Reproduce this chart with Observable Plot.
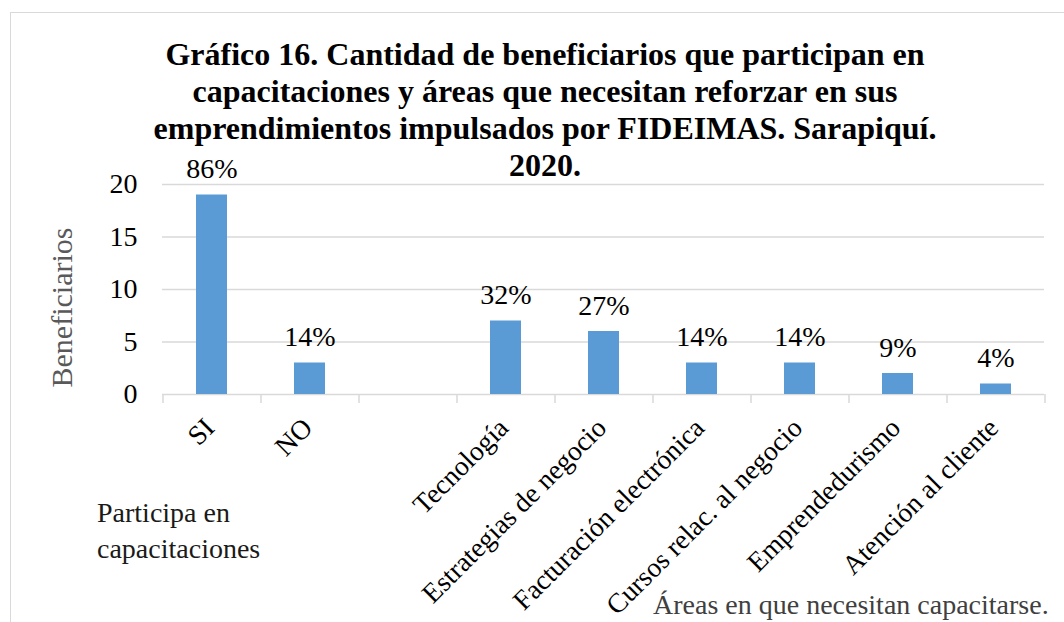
<!DOCTYPE html>
<html>
<head>
<meta charset="utf-8">
<script src="https://cdn.jsdelivr.net/npm/d3@7"></script>
<script src="https://cdn.jsdelivr.net/npm/@observablehq/plot@0.6"></script>
<style>
  html, body { margin: 0; padding: 0; background: #fff; }
  body { width: 1064px; height: 622px; overflow: hidden; position: relative; font-family: "Liberation Serif", "Times New Roman", serif; }
  #frame { position: absolute; left: 10px; top: 12px; width: 1200px; height: 800px; border: 1.5px solid #d9d9d9; box-sizing: border-box; }
  #chart { position: absolute; left: 0; top: 0; }
  #title { position: absolute; left: 0; top: 36px; width: 1090px; text-align: center; font-weight: bold; font-size: 32px; line-height: 37px; color: #000; }
  #lab1 { position: absolute; left: 97px; top: 495px; font-size: 28px; line-height: 36px; color: #1a1a1a; white-space: nowrap; }
  #lab2 { position: absolute; left: 653px; top: 587px; font-size: 28px; line-height: 36px; color: #404040; white-space: nowrap; }
</style>
</head>
<body>
<div id="frame"></div>
<div id="chart"></div>
<div id="title">Gráfico 16. Cantidad de beneficiarios que participan en<br>capacitaciones y áreas que necesitan reforzar en sus<br>emprendimientos impulsados por FIDEIMAS. Sarapiquí.<br>2020.</div>
<div id="lab1">Participa en<br>capacitaciones</div>
<div id="lab2">Áreas en que necesitan capacitarse.</div>
<script>
const categories = ["SI", "NO", "", "Tecnología", "Estrategias de negocio", "Facturación electrónica", "Cursos relac. al negocio", "Emprendedurismo", "Atención al cliente"];
const values = [19, 3, null, 7, 6, 3, 3, 2, 1];
const percents = ["86%", "14%", "", "32%", "27%", "14%", "14%", "9%", "4%"];
const yTicks = [0, 5, 10, 15, 20];
const yLabel = "Beneficiarios";

const rows = categories.map((c, i) => ({cat: c, value: values[i], pct: percents[i]}));
const bars = rows.filter(d => d.value != null);

const W = 1064, H = 622;
const mL = 162, mR = 20, mT = 184, mB = 228;
const slot = (W - mL - mR) / categories.length;
const pad = 0.684;

const chart = Plot.plot({
  width: W,
  height: H,
  marginLeft: mL,
  marginRight: mR,
  marginTop: mT,
  marginBottom: mB,
  style: {fontFamily: "'Liberation Serif', 'Times New Roman', serif", fontSize: "28px", background: "transparent", color: "#000"},
  x: {domain: categories, paddingInner: pad, paddingOuter: pad / 2, axis: null},
  y: {domain: [0, 20], axis: null},
  marks: [
    Plot.gridY(yTicks, {stroke: "#d9d9d9", strokeOpacity: 1, strokeWidth: 1.5}),
    Plot.ruleX(categories, {x: d => d, y1: 0, y2: 0, dx: -slot / 2, insetBottom: -9, stroke: "#d9d9d9", strokeWidth: 1.5}),
    Plot.ruleX(categories.slice(-1), {x: d => d, y1: 0, y2: 0, dx: slot / 2, insetBottom: -9, stroke: "#d9d9d9", strokeWidth: 1.5}),
    Plot.barY(bars, {x: "cat", y: "value", fill: "#5B9BD5"}),
    Plot.text(bars, {x: "cat", y: "value", text: "pct", dy: -17, lineAnchor: "bottom", fontSize: 28, fill: "#000"}),
    Plot.axisY(yTicks, {tickSize: 0, tickPadding: 25, fontSize: 28, label: null, color: "#000"}),
    Plot.text(rows, {x: "cat", frameAnchor: "bottom", text: "cat", rotate: -45, textAnchor: "end", lineAnchor: "bottom", dx: 4, dy: 35, fontSize: 27.5, fill: "#000"}),
    Plot.text([yLabel], {frameAnchor: "left", text: d => d, rotate: -90, textAnchor: "middle", dx: -100, dy: 18, lineAnchor: "middle", fontSize: 30, fill: "#595959"})
  ]
});
document.getElementById("chart").appendChild(chart);
</script>
</body>
</html>
